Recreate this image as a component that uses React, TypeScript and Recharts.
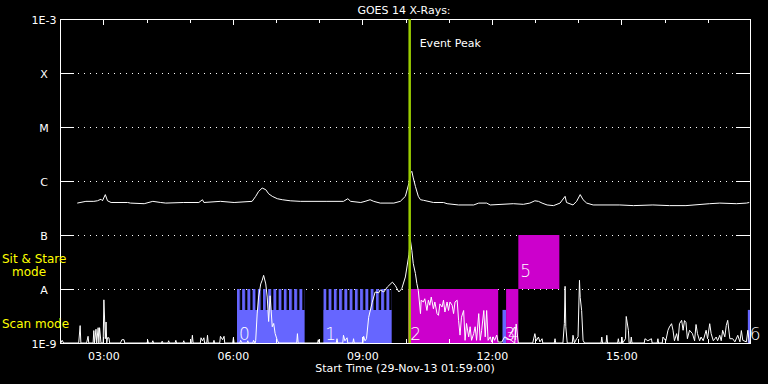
import { LineChart, Line, XAxis, YAxis, CartesianGrid, ReferenceArea, ReferenceLine } from 'recharts';

const startTime = '01:59';
const endTime = '17:58';
const peakTime = '10:05';

const fluxTicks = [1e-9, 1e-8, 1e-7, 1e-6, 1e-5, 1e-4, 1e-3];
const fluxLabels = ['1E-9', 'A', 'B', 'C', 'M', 'X', '1E-3'];
const hourTicks = [3, 4, 5, 6, 7, 8, 9, 10, 11, 12, 13, 14, 15, 16, 17];

// GOES 14 long channel (W/m^2)
const goesFlux: [string, number][] = [
  ['02:23', 3.9e-7], ['02:35', 4.2e-7], ['02:46', 4.2e-7], ['02:51', 4.3e-7], ['02:56', 4.6e-7],
  ['02:58', 4.3e-7], ['03:02', 5.6e-7], ['03:05', 4.3e-7], ['03:10', 4.0e-7], ['03:33', 4.0e-7],
  ['03:37', 3.9e-7], ['03:56', 3.8e-7], ['04:08', 4.2e-7], ['04:19', 4.0e-7], ['04:26', 3.9e-7],
  ['04:51', 4.0e-7], ['05:12', 4.0e-7], ['05:17', 4.5e-7], ['05:19', 4.0e-7], ['05:42', 4.2e-7],
  ['06:01', 4.0e-7], ['06:26', 4.2e-7], ['06:31', 5.2e-7], ['06:35', 6.4e-7], ['06:40', 7.4e-7],
  ['06:45', 6.9e-7], ['06:49', 5.8e-7], ['06:54', 5.2e-7], ['07:01', 4.7e-7], ['07:08', 4.5e-7],
  ['07:19', 4.3e-7], ['07:33', 4.2e-7], ['08:10', 4.2e-7], ['08:33', 4.2e-7], ['08:39', 4.7e-7],
  ['08:43', 4.2e-7], ['08:57', 4.0e-7], ['09:03', 4.2e-7], ['09:10', 4.5e-7], ['09:15', 4.2e-7],
  ['09:24', 3.9e-7], ['09:43', 3.9e-7], ['09:52', 4.2e-7], ['09:59', 5.2e-7], ['10:04', 9.2e-7],
  ['10:06', 1.41e-6], ['10:08', 1.51e-6], ['10:10', 1.14e-6], ['10:13', 7.9e-7], ['10:17', 5.2e-7],
  ['10:20', 4.5e-7], ['10:24', 4.4e-7], ['10:38', 4.0e-7], ['10:52', 4.0e-7], ['10:57', 3.8e-7],
  ['11:13', 3.6e-7], ['11:34', 3.6e-7], ['11:41', 3.9e-7], ['11:52', 3.9e-7], ['11:57', 3.6e-7],
  ['12:29', 3.8e-7], ['12:43', 3.7e-7], ['12:52', 3.9e-7], ['12:59', 4.3e-7], ['13:04', 4.2e-7],
  ['13:09', 3.9e-7], ['13:16', 3.6e-7], ['13:25', 3.5e-7], ['13:34', 3.9e-7], ['13:41', 5.2e-7],
  ['13:43', 4.0e-7], ['13:52', 3.6e-7], ['13:57', 4.2e-7], ['14:02', 5.6e-7], ['14:06', 4.5e-7],
  ['14:11', 3.9e-7], ['14:20', 3.6e-7], ['14:57', 3.6e-7], ['15:16', 3.5e-7], ['15:43', 3.6e-7],
  ['16:06', 3.5e-7], ['16:29', 3.5e-7], ['17:02', 3.8e-7], ['17:16', 3.9e-7], ['17:39', 3.8e-7],
  ['17:53', 3.9e-7], ['17:57', 4.0e-7],
];

// lower trace, in units of 1E-9
const scanSignal: [string, number][] = [
  ['02:00', 1], ['02:02', 1.12], ['02:04', 1], ['02:25', 1], ['02:27', 2.1], ['02:28', 1],
  ['02:36', 1], ['02:38', 1.33], ['02:39', 1], ['02:45', 1], ['02:46', 1.7], ['02:47', 1],
  ['02:49', 1.8], ['02:50', 1], ['02:52', 1.92], ['02:53', 1], ['02:54', 1.92], ['02:56', 1],
  ['02:59', 1], ['03:00', 6.3], ['03:02', 1.2], ['03:03', 2.45], ['03:04', 1], ['03:05', 1.25],
  ['03:07', 1.25], ['03:08', 1], ['03:23', 1], ['03:25', 1.15], ['03:28', 1.15], ['03:29', 1],
  ['04:00', 1], ['04:01', 1.12], ['04:02', 1], ['04:07', 1], ['04:08', 1.1], ['04:09', 1],
  ['04:20', 1], ['04:21', 1.08], ['04:22', 1], ['04:29', 1], ['04:30', 1.1], ['04:31', 1],
  ['04:39', 1], ['04:40', 1.12], ['04:41', 1], ['04:50', 1], ['04:51', 1.1], ['04:52', 1],
  ['05:02', 1], ['05:03', 1.39], ['05:04', 1], ['05:14', 1], ['05:15', 1.25], ['05:17', 1.1],
  ['05:19', 1.25], ['05:20', 1], ['05:23', 1], ['05:24', 1.39], ['05:25', 1], ['05:32', 1],
  ['05:33', 1.12], ['05:34', 1], ['05:41', 1], ['05:42', 1.33], ['05:45', 1.15], ['05:47', 1.33],
  ['05:48', 1], ['05:59', 1], ['06:00', 1.25], ['06:01', 1], ['06:09', 1], ['06:10', 1.12],
  ['06:12', 1], ['06:19', 1], ['06:20', 1.1], ['06:21', 1], ['06:27', 1], ['06:28', 1.12],
  ['06:30', 1], ['06:31', 1.12], ['06:33', 3.45], ['06:35', 7.1], ['06:38', 12.4], ['06:40', 14.5],
  ['06:42', 17.9], ['06:45', 12.4], ['06:47', 7.1], ['06:49', 2.5], ['06:51', 7.5], ['06:54', 2.0],
  ['06:56', 2.3], ['06:58', 1.5], ['07:01', 1.12], ['07:03', 1], ['07:28', 1], ['07:29', 1.49],
  ['07:30', 1], ['07:57', 1], ['07:58', 1.15], ['07:59', 1], ['08:23', 1], ['08:24', 1.2],
  ['08:25', 1], ['08:32', 1], ['08:33', 1.39], ['08:35', 1.1], ['08:38', 1.25], ['08:39', 1],
  ['08:46', 1], ['08:47', 1.2], ['08:48', 1], ['09:00', 1], ['09:01', 1.33], ['09:03', 1.1],
  ['09:05', 1.2], ['09:08', 3.0], ['09:13', 5.7], ['09:17', 8.8], ['09:22', 8.5], ['09:24', 9.6],
  ['09:29', 8.8], ['09:34', 10.9], ['09:41', 13.4], ['09:45', 11.6], ['09:50', 8.8], ['09:54', 10.1],
  ['09:59', 16.7], ['10:04', 44], ['10:06', 80], ['10:08', 52], ['10:10', 29.5], ['10:13', 19.3],
  ['10:15', 12.6], ['10:17', 9.4], ['10:20', 3.5], ['10:21', 6.2], ['10:24', 5.75], ['10:26', 6.6],
  ['10:29', 4.0], ['10:31', 6.2], ['10:33', 5.0], ['10:35', 7.1], ['10:38', 4.3], ['10:40', 5.75],
  ['10:43', 3.5], ['10:45', 3.25], ['10:47', 5.3], ['10:50', 4.64], ['10:52', 6.2], ['10:54', 3.75],
  ['10:57', 5.75], ['10:59', 4.0], ['11:01', 5.75], ['11:04', 5.0], ['11:06', 3.5], ['11:08', 5.75],
  ['11:11', 6.2], ['11:13', 2.6], ['11:15', 1.4], ['11:17', 3.0], ['11:20', 4.0], ['11:22', 1.12],
  ['11:24', 2.3], ['11:27', 1.3], ['11:29', 2.0], ['11:31', 1.12], ['11:34', 1.5], ['11:36', 2.0],
  ['11:38', 1.12], ['11:41', 3.5], ['11:43', 1.12], ['11:45', 1.7], ['11:48', 4.0], ['11:50', 1.3],
  ['11:52', 4.0], ['11:54', 1.12], ['11:57', 1.3], ['11:59', 1.04], ['12:01', 1.3], ['12:03', 1.12],
  ['12:06', 1.4], ['12:08', 1.04], ['12:13', 1.04], ['12:17', 1.3], ['12:22', 1.2], ['12:26', 1.12],
  ['12:31', 1], ['12:33', 2.25], ['12:36', 1], ['12:56', 1], ['12:59', 1.49], ['13:01', 1.1],
  ['13:04', 1.29], ['13:06', 1.05], ['13:09', 1.2], ['13:10', 1], ['13:26', 1], ['13:27', 1.2],
  ['13:28', 1], ['13:38', 1], ['13:40', 2.3], ['13:41', 11.2], ['13:42', 2], ['13:44', 1],
  ['13:51', 1], ['13:52', 1.39], ['13:54', 1], ['13:57', 1.2], ['13:59', 1.3], ['14:01', 14.5],
  ['14:02', 7], ['14:04', 4.0], ['14:06', 1.12], ['14:08', 1], ['14:31', 1], ['14:32', 1.29],
  ['14:33', 1], ['14:38', 1], ['14:39', 1.39], ['14:40', 1], ['14:54', 1], ['14:55', 1.2],
  ['14:56', 1], ['14:59', 1], ['15:00', 1.29], ['15:01', 1], ['15:05', 1.2], ['15:06', 3.1],
  ['15:09', 1.72], ['15:10', 1], ['15:12', 1], ['15:13', 1.29], ['15:14', 1], ['15:31', 1],
  ['15:32', 1.2], ['15:36', 1.1], ['15:41', 1.2], ['15:42', 1], ['15:49', 1], ['15:50', 1.2],
  ['15:51', 1], ['15:56', 1], ['15:57', 1.29], ['16:01', 1.1], ['16:04', 1.72], ['16:06', 1.98],
  ['16:09', 2.28], ['16:11', 1.72], ['16:13', 1.1], ['16:16', 1.49], ['16:18', 1.1], ['16:20', 2.28],
  ['16:23', 2.63], ['16:25', 1.72], ['16:27', 2.6], ['16:29', 2.4], ['16:31', 1.2], ['16:34', 1.72],
  ['16:38', 1.49], ['16:41', 1.1], ['16:43', 2.2], ['16:45', 1.49], ['16:48', 1.1], ['16:50', 1.29],
  ['16:53', 1.1], ['16:57', 1.72], ['16:59', 1.2], ['17:02', 2.28], ['17:04', 1.49], ['17:07', 1.1],
  ['17:11', 1.29], ['17:13', 1.1], ['17:16', 1.39], ['17:18', 1.1], ['17:20', 1.72], ['17:23', 1.3],
  ['17:25', 2.1], ['17:27', 2.63], ['17:30', 1.2], ['17:34', 1.2], ['17:37', 1.05], ['17:41', 1.39],
  ['17:44', 1.05], ['17:46', 1.7], ['17:48', 1.12], ['17:53', 1.05], ['17:55', 1.72], ['17:57', 1],
];

// observation blocks
const obsIds = ['0', '1', '2', '3', '4', '5', '6'];
const obsStart = ['06:05', '08:05', '10:03', '12:14', '12:19', '12:36', '17:55'];
const obsEnd = ['07:39', '09:40', '12:08', '12:19', '12:36', '13:33', '17:58'];
const obsMode = ['raster', 'raster', 'stare', 'scan', 'stare', 'stare', 'scan'];
const obsLow = [1e-9, 1e-9, 1e-9, 1e-9, 1e-9, 1e-8, 1e-9];
const obsHigh = [1e-8, 1e-8, 1e-8, 4.1e-9, 1e-8, 1e-7, 4.1e-9];
const rasterBase = 4.1e-9;

const BLUE = '#6666ff';
const MAGENTA = '#cc00cc';
const PEAK = '#9acd00';
const FONT = '"DejaVu Sans", sans-serif';

const hrs = (s: string) => {
  const [h, m] = s.split(':').map(Number);
  return h + m / 60;
};

const goesData = goesFlux.map(([t, v]) => ({ t: hrs(t), v }));
const scanData = scanSignal.map(([t, v]) => ({ t: hrs(t), v: v * 1e-9 }));

function FluxTick(props: any) {
  const { y, payload } = props;
  const label = fluxLabels[fluxTicks.indexOf(payload.value)];
  return (
    <g>
      <line x1={60} x2={74} y1={y} y2={y} stroke="#fff" shapeRendering="crispEdges" />
      <line x1={736} x2={750} y1={y} y2={y} stroke="#fff" shapeRendering="crispEdges" />
      <text x={44} y={y + 4.5} textAnchor="middle" fill="#fff" fontSize={11} fontFamily={FONT}>
        {label}
      </text>
    </g>
  );
}

function HourTick(props: any) {
  const { x, payload } = props;
  const h = payload.value;
  const major = h % 3 === 0;
  const len = major ? 6 : 4;
  return (
    <g>
      <line x1={x} x2={x} y1={19} y2={19 + len} stroke="#fff" shapeRendering="crispEdges" />
      <line x1={x} x2={x} y1={343} y2={343 - len} stroke="#fff" shapeRendering="crispEdges" />
      {major && (
        <text x={x} y={359.5} textAnchor="middle" fill="#fff" fontSize={11} fontFamily={FONT}>
          {String(h).padStart(2, '0') + ':00'}
        </text>
      )}
    </g>
  );
}

const blockLabel = (id: string, raise: number) => (p: any) => (
  <text
    x={p.viewBox.x + 2}
    y={p.viewBox.y + p.viewBox.height - 3 - raise}
    fill="#fff"
    fontSize={17}
    fontFamily={FONT}
    fontWeight={300}
  >
    {id}
  </text>
);

export default function App() {
  const t0 = hrs(startTime);
  const t1 = hrs(endTime);

  const blocks = obsIds.map((id, i) => {
    const x1 = hrs(obsStart[i]);
    const x2 = hrs(obsEnd[i]);
    const fill = obsMode[i] === 'stare' ? MAGENTA : BLUE;
    if (obsMode[i] === 'raster') {
      return [
        <ReferenceArea key={`c${id}`} x1={x1} x2={x2} y1={rasterBase} y2={obsHigh[i]} fill="url(#comb)" fillOpacity={1} stroke="none" />,
        <ReferenceArea key={`s${id}`} x1={x1} x2={x2} y1={obsLow[i]} y2={rasterBase} fill={fill} fillOpacity={1} stroke="none" />,
      ];
    }
    return <ReferenceArea key={`b${id}`} x1={x1} x2={x2} y1={obsLow[i]} y2={obsHigh[i]} fill={fill} fillOpacity={1} stroke="none" />;
  });

  // numbers drawn after every block so narrow neighbours do not hide them
  const blockNumbers = obsIds.map((id, i) => (
    <ReferenceArea
      key={`n${id}`}
      x1={hrs(obsStart[i])}
      x2={hrs(obsEnd[i])}
      y1={obsLow[i]}
      y2={obsMode[i] === 'raster' ? rasterBase : obsHigh[i]}
      fill="none"
      stroke="none"
      label={blockLabel(id, obsLow[i] > 1e-9 ? 9 : 0)}
    />
  ));

  return (
    <div style={{ position: 'absolute', left: 0, top: 0, width: 768, height: 384, background: '#000', fontFamily: FONT }}>
      <LineChart width={768} height={384} margin={{ top: 19, right: 18, left: 0, bottom: 0 }}>
        <defs>
          <pattern id="comb" patternUnits="objectBoundingBox" patternContentUnits="objectBoundingBox" width={1 / 13} height={1}>
            <rect x={0} y={0} width={0.55 / 13} height={1} fill={BLUE} />
          </pattern>
        </defs>
        <CartesianGrid vertical={false} stroke="#fff" strokeDasharray="1 5" shapeRendering="crispEdges" />
        <XAxis
          dataKey="t"
          type="number"
          domain={[t0, t1]}
          ticks={hourTicks}
          interval={0}
          height={41}
          axisLine={false}
          tickLine={false}
          tick={HourTick}
          allowDataOverflow
        />
        <YAxis
          type="number"
          scale="log"
          domain={[1e-9, 1e-3]}
          ticks={fluxTicks}
          interval={0}
          width={60}
          axisLine={false}
          tickLine={false}
          tick={FluxTick}
          allowDataOverflow
        />
        {blocks}
        {blockNumbers}
        <ReferenceArea x1={t0} x2={t1} y1={1e-9} y2={1e-3} fill="none" stroke="#fff" strokeWidth={1} shapeRendering="crispEdges" />
        <Line data={scanData} dataKey="v" type="linear" stroke="#fff" strokeWidth={1} dot={false} isAnimationActive={false} />
        <Line data={goesData} dataKey="v" type="linear" stroke="#fff" strokeWidth={1} dot={false} isAnimationActive={false} />
        <ReferenceLine
          x={hrs(peakTime)}
          stroke={PEAK}
          strokeWidth={2.5}
          label={(p: any) => (
            <text x={p.viewBox.x + 10} y={47} fill="#fff" fontSize={11} fontFamily={FONT}>
              Event Peak
            </text>
          )}
        />
      </LineChart>
      <svg width={768} height={384} style={{ position: 'absolute', left: 0, top: 0, pointerEvents: 'none' }}>
        <text x={404} y={13.5} textAnchor="middle" fill="#fff" fontSize={11} fontFamily={FONT}>
          GOES 14 X-Rays:
        </text>
        <text x={405} y={372} textAnchor="middle" fill="#fff" fontSize={11} fontFamily={FONT}>
          Start Time (29-Nov-13 01:59:00)
        </text>
        <text x={2} y={263} fill="#ffff00" fontSize={12} fontFamily={FONT}>Sit &amp; Stare</text>
        <text x={12} y={276} fill="#ffff00" fontSize={12} fontFamily={FONT}>mode</text>
        <text x={2} y={327.5} fill="#ffff00" fontSize={12} fontFamily={FONT}>Scan mode</text>
      </svg>
    </div>
  );
}
